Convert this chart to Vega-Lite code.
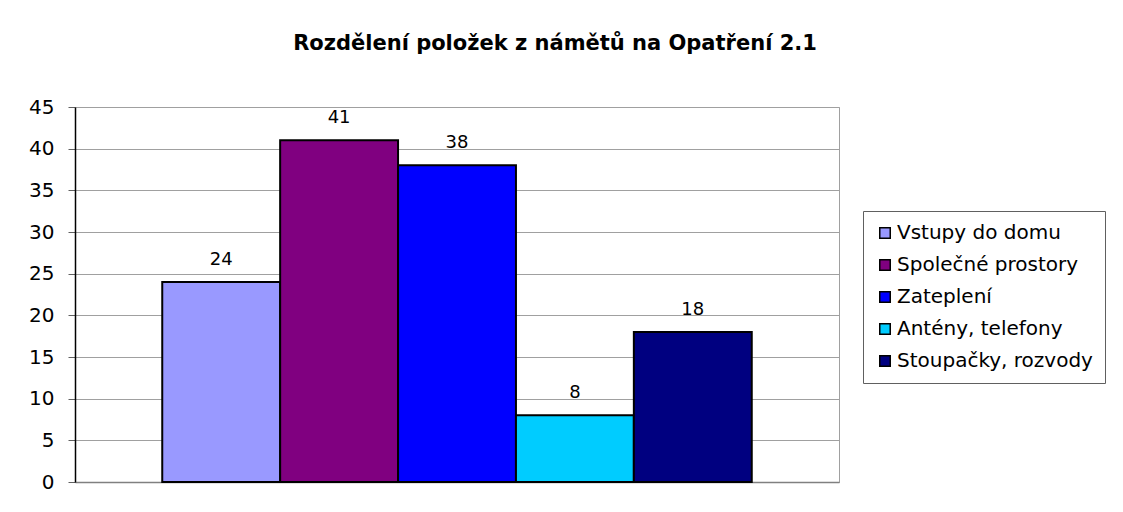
{
  "$schema": "https://vega.github.io/schema/vega-lite/v6.json",
  "width": 764,
  "height": 375,
  "autosize": {"type": "none"},
  "padding": {"left": 75, "top": 107, "right": 284, "bottom": 30},
  "background": "white",
  "config": {
    "font": "DejaVu Sans",
    "view": {"stroke": "#a0a0a0", "strokeWidth": 1}
  },
  "title": {
    "text": "Rozdělení položek z námětů na Opatření 2.1",
    "fontSize": 21,
    "fontWeight": "bold",
    "color": "black",
    "anchor": "middle",
    "dx": 98,
    "offset": 43
  },
  "data": {
    "values": [
      {"series": "Vstupy do domu", "value": 24},
      {"series": "Společné prostory", "value": 41},
      {"series": "Zateplení", "value": 38},
      {"series": "Antény, telefony", "value": 8},
      {"series": "Stoupačky, rozvody", "value": 18}
    ]
  },
  "encoding": {
    "x": {
      "field": "series",
      "type": "nominal",
      "sort": null,
      "scale": {"paddingInner": 0, "paddingOuter": 0.74},
      "axis": {"labels": false, "ticks": false, "title": null, "domainColor": "#808080", "domainWidth": 1.5}
    },
    "y": {
      "field": "value",
      "type": "quantitative",
      "scale": {"domain": [0, 45], "nice": false},
      "axis": {
        "values": [0, 5, 10, 15, 20, 25, 30, 35, 40, 45],
        "title": null,
        "grid": true,
        "gridColor": "#a0a0a0",
        "gridWidth": 1,
        "domainColor": "black",
        "domainWidth": 1.5,
        "tickColor": "#606060",
        "tickSize": 7,
        "labelFontSize": 20,
        "labelColor": "black",
        "labelPadding": 14
      }
    }
  },
  "layer": [
    {
      "mark": {"type": "bar", "stroke": "black", "strokeWidth": 2},
      "encoding": {
        "color": {
          "field": "series",
          "type": "nominal",
          "sort": null,
          "scale": {
            "domain": ["Vstupy do domu", "Společné prostory", "Zateplení", "Antény, telefony", "Stoupačky, rozvody"],
            "range": ["#9999FF", "#800080", "#0000FF", "#00CCFF", "#000080"]
          },
          "legend": {
            "title": null,
            "orient": "none",
            "legendX": 788,
            "legendY": 104,
            "symbolType": "square",
            "symbolSize": 110,
            "symbolStrokeColor": "black",
            "symbolStrokeWidth": 1.5,
            "labelFontSize": 20,
            "labelColor": "black",
            "labelOffset": 2,
            "rowPadding": 12,
            "padding": 12,
            "strokeColor": "#606060",
            "fillColor": "white",
            "labelLimit": 300
          }
        }
      }
    },
    {
      "mark": {"type": "text", "dy": -22, "baseline": "middle", "fontSize": 18, "color": "black"},
      "encoding": {"text": {"field": "value", "type": "quantitative"}}
    }
  ]
}
